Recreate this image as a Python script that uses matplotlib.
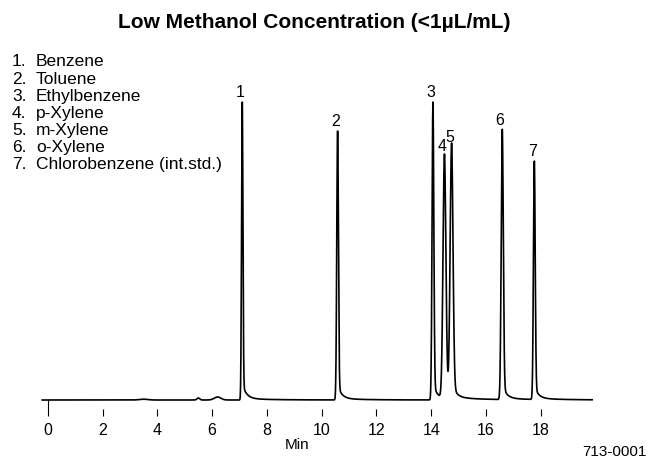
import math
import numpy as np
import matplotlib
matplotlib.use('Agg')
import matplotlib.pyplot as plt

# peak table (retention time in min, height in signal units)
peak_labels = ['1', '2', '3', '4', '5', '6', '7']
peak_times = [7.10, 10.58, 14.06, 14.48, 14.74, 16.59, 17.76]
peak_heights = [297, 268, 297, 243, 252, 269, 238]
peak_sigmas = [0.025, 0.030, 0.032, 0.052, 0.052, 0.038, 0.032]
tail_fracs = [0.05, 0.05, 0.05, 0.05, 0.05, 0.05, 0.05]
tail_taus = [0.15, 0.15, 0.15, 0.15, 0.15, 0.15, 0.15]

# small baseline disturbances before peak 1
bump_times = [3.5, 5.5, 6.2]
bump_heights = [0.8, 2.0, 3.0]
bump_widths = [0.15, 0.05, 0.12]

compounds = ['Benzene', 'Toluene', 'Ethylbenzene', 'p-Xylene', 'm-Xylene',
             'o-Xylene', 'Chlorobenzene (int.std.)']

t_start, t_end = -0.2, 19.87

narrow = ['Liberation Sans Narrow', 'Liberation Sans', 'DejaVu Sans']
sans = ['Liberation Sans', 'DejaVu Sans']


def peak(t, t0, h, s, a, tau):
    dt = t - t0
    y = h * np.exp(-dt ** 2 / (2 * s ** 2))
    right = dt > 0
    y[right] = h * ((1 - a) * np.exp(-dt[right] ** 2 / (2 * s ** 2))
                    + a * np.exp(-dt[right] / tau)
                    + 0.005 * np.exp(-dt[right] / 1.0))
    return y


t = np.linspace(t_start, t_end, 8000)
signal = np.zeros_like(t)
for t0, h, s, a, tau in zip(peak_times, peak_heights, peak_sigmas, tail_fracs, tail_taus):
    signal += peak(t, t0, h, s, a, tau)
for t0, h, w in zip(bump_times, bump_heights, bump_widths):
    signal += h * np.exp(-(t - t0) ** 2 / (2 * w ** 2))

W, H = 649, 468
fig = plt.figure(figsize=(W / 100, H / 100), dpi=100)

px_per_min = 27.4
x0_px = 47.7
xlim = (-0.3, 20.2)
left_px = x0_px + px_per_min * xlim[0]
right_px = x0_px + px_per_min * xlim[1]
bottom_px, top_px = 416, 90
ax = fig.add_axes([left_px / W, (H - bottom_px) / H,
                   (right_px - left_px) / W, (bottom_px - top_px) / H])
ax.set_xlim(*xlim)
# baseline sits at 400 px, i.e. 16 px above the axes bottom
ax.set_ylim(-16, bottom_px - top_px - 16)

ax.plot(t, signal, color='black', lw=1.2)

for lab, t0, h in zip(peak_labels, peak_times, peak_heights):
    ax.annotate(lab, (t0, h), xytext=(-1.5, 2), textcoords='offset points',
                ha='center', va='bottom', fontsize=11.5, family=narrow)

for s in ax.spines.values():
    s.set_visible(False)
ax.set_yticks([])
ax.set_xticks(range(0, 19, 2))
ax.tick_params(axis='x', direction='in', length=5, width=0.8, pad=5, labelsize=11.5)
for lbl in ax.get_xticklabels():
    lbl.set_family(narrow)
ax.xaxis.get_major_ticks()[0].tick1line.set_markersize(11.5)

fig.text(314 / W, 1 - 22 / H, 'Low Methanol Concentration (<1\u00b5L/mL)',
         ha='center', va='center', fontsize=15, fontweight='bold', family=sans)

for i, name in enumerate(compounds):
    y = 1 - (62 + 17.1 * i) / H
    fig.text(12 / W, y, f'{i + 1}.', ha='left', va='center', fontsize=12.5, family=sans)
    fig.text(36 / W, y, name, ha='left', va='center', fontsize=12.5, family=sans)

fig.text(297 / W, 1 - 445 / H, 'Min', ha='center', va='center', fontsize=11, family=narrow)
fig.text(647 / W, 1 - 452 / H, '713-0001', ha='right', va='center', fontsize=11, family=sans)

fig.savefig('out.png', dpi=100)
